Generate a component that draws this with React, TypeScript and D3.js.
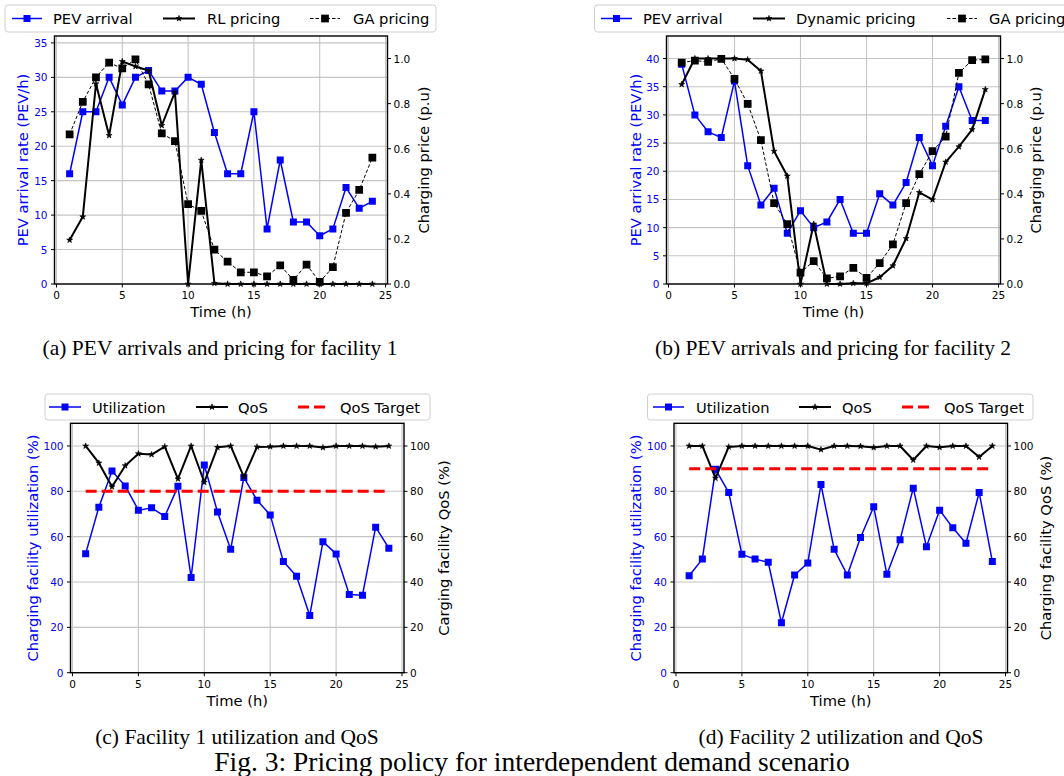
import React from 'react'
import * as d3 from 'd3'

// hours of the day on the x axis
const hours = [1, 2, 3, 4, 5, 6, 7, 8, 9, 10, 11, 12, 13, 14, 15, 16, 17, 18, 19, 20, 21, 22, 23, 24]

// (a) facility 1
const pevArrival1 = [16, 25, 25, 30, 26, 30, 31, 28, 28, 30, 29, 22, 16, 16, 25, 8, 18, 9, 9, 7, 8, 14, 11, 12]
const rlPricing1 = [0.195, 0.298, 0.888, 0.659, 0.987, 0.965, 0.947, 0.703, 0.851, 0, 0.549, 0.003, 0, 0, 0, 0, 0, 0, 0, 0, 0, 0, 0, 0]
const gaPricing1 = [0.664, 0.808, 0.917, 0.982, 0.956, 0.996, 0.885, 0.668, 0.634, 0.354, 0.324, 0.152, 0.099, 0.052, 0.052, 0.034, 0.083, 0.018, 0.086, 0.009, 0.075, 0.316, 0.417, 0.56]

// (b) facility 2
const pevArrival2 = [39, 30, 27, 26, 36, 21, 14, 17, 9, 13, 10, 11, 15, 9, 9, 16, 14, 18, 26, 21, 28, 35, 29, 29]
const dynPricing2 = [0.885, 1.0, 1.0, 1.0, 1.0, 0.995, 0.945, 0.589, 0.479, 0.0, 0.266, 0.0, 0.0, 0.003, 0.003, 0.03, 0.081, 0.202, 0.406, 0.374, 0.541, 0.609, 0.685, 0.863]
const gaPricing2 = [0.982, 0.991, 0.985, 0.999, 0.91, 0.799, 0.638, 0.359, 0.266, 0.05, 0.102, 0.025, 0.034, 0.072, 0.027, 0.093, 0.176, 0.359, 0.487, 0.589, 0.654, 0.936, 0.993, 0.996]

// (c) facility 1 utilization / QoS
const utilization1 = [52.5, 73, 89, 82.4, 71.7, 72.7, 68.9, 82.2, 42, 91.6, 70.9, 54.4, 86.1, 76.1, 69.6, 49, 42.5, 25.2, 57.8, 52.4, 34.5, 34.2, 64.2, 54.9]
const qos1 = [100, 92.5, 82, 91.3, 96.6, 96.2, 99.7, 85.5, 100, 84, 99.4, 100, 86.4, 99.6, 99.7, 100, 100, 100, 99.3, 100, 100, 100, 99.7, 100]
const qosTarget1 = 80

// (d) facility 2 utilization / QoS
const utilization2 = [42.8, 50.1, 89.7, 79.5, 52.2, 50.1, 48.7, 22, 43.1, 48.4, 83, 54.4, 43.1, 59.6, 73.2, 43.4, 58.6, 81.4, 55.6, 71.7, 63.9, 57.1, 79.5, 49.1]
const qos2 = [100, 100, 85.8, 99.6, 100, 100, 100, 100, 100, 100, 98.4, 100, 100, 99.9, 99.3, 100, 100, 93.8, 100, 99.4, 100, 100, 95.1, 100]
const qosTarget2 = 90

const timeTicks = [0, 5, 10, 15, 20, 25]
const arrivalTicks1 = [0, 5, 10, 15, 20, 25, 30, 35]
const arrivalTicks2 = [0, 5, 10, 15, 20, 25, 30, 35, 40]
const priceTicks = [0, 0.2, 0.4, 0.6, 0.8, 1.0]
const percentTicks = [0, 20, 40, 60, 80, 100]

const BLUE = '#0000ff'
const SANS = 'DejaVu Sans, sans-serif'
const SERIF = 'Liberation Serif, Times New Roman, serif'

const squareSym = (s) => d3.symbol().type(d3.symbolSquare).size(s)()
const starSym = (s) => d3.symbol().type(d3.symbolStar).size(s)()

const Marker = ({ kind, size, color, x, y }) => {
    if (!kind) return null
    const d = kind === 'square' ? squareSym(size) : starSym(size)
    return <path d={d} transform={`translate(${x},${y})`} fill={color} stroke={color} strokeWidth={kind === 'star' ? 0.6 : 0} />
}

const Panel = ({ cfg }) => {
    const { box, leftDomain, rightDomain } = cfg
    const x = d3.scaleLinear().domain([-0.15, 25.15]).range([box.left, box.right])
    const yL = d3.scaleLinear().domain(leftDomain).range([box.bottom, box.top])
    const yR = d3.scaleLinear().domain(rightDomain).range([box.bottom, box.top])
    const cx = (box.left + box.right) / 2
    const cy = (box.top + box.bottom) / 2

    const drawSeries = (s, i) => {
        const y = s.axis === 'left' ? yL : yR
        if (s.target !== undefined) {
            return <line key={i} x1={x(hours[0])} x2={x(hours[hours.length - 1])} y1={y(s.target)} y2={y(s.target)}
                stroke={s.color} strokeWidth={s.width} strokeDasharray={s.dash} />
        }
        const line = d3.line().x((d, j) => x(hours[j])).y(d => y(d))
        return (
            <g key={i}>
                <path d={line(s.values)} fill="none" stroke={s.color} strokeWidth={s.width} strokeDasharray={s.dash || null} strokeLinejoin="round" />
                {s.values.map((v, j) => <Marker key={j} kind={s.marker} size={s.markerSize} color={s.color} x={x(hours[j])} y={y(v)} />)}
            </g>
        )
    }

    const lg = cfg.legend
    const lgY = (lg.y0 + lg.y1) / 2

    return (
        <g>
            <defs>
                <clipPath id={'clip-' + cfg.id}>
                    <rect x={box.left} y={box.top - 6} width={box.right - box.left} height={box.bottom - box.top + 10} />
                </clipPath>
            </defs>
            {/* grid */}
            {timeTicks.map(t => <line key={'gx' + t} x1={x(t)} x2={x(t)} y1={box.top} y2={box.bottom} stroke="#c4c4c4" strokeWidth={1.1} />)}
            {cfg.leftTicks.map(t => <line key={'gy' + t} x1={box.left} x2={box.right} y1={yL(t)} y2={yL(t)} stroke="#c4c4c4" strokeWidth={1.1} />)}

            <g clipPath={`url(#clip-${cfg.id})`}>
                {cfg.series.map(drawSeries)}
            </g>

            {/* frame */}
            <rect x={box.left} y={box.top} width={box.right - box.left} height={box.bottom - box.top} fill="none" stroke="#000" strokeWidth={1.4} />

            {/* bottom ticks */}
            {timeTicks.map(t => (
                <g key={'xt' + t}>
                    <line x1={x(t)} x2={x(t)} y1={box.bottom} y2={box.bottom + 3.5} stroke="#000" />
                    <text x={x(t)} y={box.bottom + 15} textAnchor="middle" fontSize={10.5} fontFamily={SANS} fill="#000">{t}</text>
                </g>
            ))}
            {/* left ticks */}
            {cfg.leftTicks.map(t => (
                <g key={'yl' + t}>
                    <line x1={box.left - 3.5} x2={box.left} y1={yL(t)} y2={yL(t)} stroke="#000" />
                    <text x={box.left - 7} y={yL(t)} textAnchor="end" dominantBaseline="central" fontSize={10.5} fontFamily={SANS} fill={BLUE}>{t}</text>
                </g>
            ))}
            {/* right ticks */}
            {cfg.rightTicks.map(t => (
                <g key={'yr' + t}>
                    <line x1={box.right} x2={box.right + 3.5} y1={yR(t)} y2={yR(t)} stroke="#000" />
                    <text x={box.right + 6} y={yR(t)} textAnchor="start" dominantBaseline="central" fontSize={10.5} fontFamily={SANS} fill="#000">{cfg.rightFormat(t)}</text>
                </g>
            ))}

            <text x={cx} y={box.bottom + 33} textAnchor="middle" fontSize={14.7} fontFamily={SANS}>Time (h)</text>
            <text transform={`translate(${cfg.leftLabelX},${cy}) rotate(-90)`} textAnchor="middle" dominantBaseline="central" fontSize={14.7} fontFamily={SANS} fill={BLUE}>{cfg.leftLabel}</text>
            <text transform={`translate(${cfg.rightLabelX},${cy}) rotate(-90)`} textAnchor="middle" dominantBaseline="central" fontSize={14.7} fontFamily={SANS} fill="#000">{cfg.rightLabel}</text>

            {/* legend */}
            <rect x={lg.x0} y={lg.y0} width={lg.x1 - lg.x0} height={lg.y1 - lg.y0} rx={3} fill="#fff" fillOpacity={0.8} stroke="#d0d0d0" />
            {cfg.series.map((s, i) => {
                const it = lg.items[i]
                return (
                    <g key={'lg' + i}>
                        <line x1={it.sx0} x2={it.sx1} y1={lgY} y2={lgY} stroke={s.color} strokeWidth={s.width} strokeDasharray={s.dash || null} />
                        <Marker kind={s.marker} size={s.markerSize} color={s.color} x={(it.sx0 + it.sx1) / 2} y={lgY} />
                        <text x={it.tx} y={lgY} dominantBaseline="central" fontSize={14.7} fontFamily={SANS}>{s.label}</text>
                    </g>
                )
            })}

            <text x={cfg.caption.x} y={cfg.caption.y} textAnchor="middle" fontSize={21.5} fontFamily={SERIF}>{cfg.caption.text}</text>
        </g>
    )
}

const fmt1 = d3.format('.1f')
const fmt0 = d3.format('d')

const panels = [
    {
        id: 'a',
        box: { left: 54.5, right: 387.5, top: 36, bottom: 284 },
        leftDomain: [0, 36], rightDomain: [0, 1.1],
        leftTicks: arrivalTicks1, rightTicks: priceTicks, rightFormat: fmt1,
        leftLabel: 'PEV arrival rate (PEV/h)', rightLabel: 'Charging price (p.u)',
        leftLabelX: 22, rightLabelX: 423,
        series: [
            { label: 'PEV arrival', values: pevArrival1, axis: 'left', color: BLUE, width: 1.5, marker: 'square', markerSize: 49 },
            { label: 'RL pricing', values: rlPricing1, axis: 'right', color: '#000', width: 2, marker: 'star', markerSize: 11 },
            { label: 'GA pricing', values: gaPricing1, axis: 'right', color: '#000', width: 1, dash: '3.5,2', marker: 'square', markerSize: 60 },
        ],
        legend: { x0: 5, x1: 436, y0: 5, y1: 32, items: [{ sx0: 12, sx1: 42, tx: 53 }, { sx0: 163, sx1: 195, tx: 207 }, { sx0: 310, sx1: 340, tx: 353 }] },
        caption: { x: 220, y: 355, text: '(a) PEV arrivals and pricing for facility 1' },
    },
    {
        id: 'b',
        box: { left: 666.5, right: 1000.5, top: 36, bottom: 284 },
        leftDomain: [0, 44], rightDomain: [0, 1.1],
        leftTicks: arrivalTicks2, rightTicks: priceTicks, rightFormat: fmt1,
        leftLabel: 'PEV arrival rate (PEV/h)', rightLabel: 'Charging price (p.u)',
        leftLabelX: 635, rightLabelX: 1035,
        series: [
            { label: 'PEV arrival', values: pevArrival2, axis: 'left', color: BLUE, width: 1.5, marker: 'square', markerSize: 49 },
            { label: 'Dynamic pricing', values: dynPricing2, axis: 'right', color: '#000', width: 2, marker: 'star', markerSize: 11 },
            { label: 'GA pricing', values: gaPricing2, axis: 'right', color: '#000', width: 1, dash: '3.5,2', marker: 'square', markerSize: 60 },
        ],
        legend: { x0: 594.5, x1: 1075, y0: 5, y1: 32, items: [{ sx0: 601, sx1: 632, tx: 643 }, { sx0: 753, sx1: 785, tx: 796 }, { sx0: 947, sx1: 977, tx: 989 }] },
        caption: { x: 833, y: 355, text: '(b) PEV arrivals and pricing for facility 2' },
    },
    {
        id: 'c',
        box: { left: 70.5, right: 404, top: 423.3, bottom: 672.7 },
        leftDomain: [0, 110], rightDomain: [0, 110],
        leftTicks: percentTicks, rightTicks: percentTicks, rightFormat: fmt0,
        leftLabel: 'Charging facility utilization (%)', rightLabel: 'Carging facility QoS (%)',
        leftLabelX: 32, rightLabelX: 443,
        series: [
            { label: 'Utilization', values: utilization1, axis: 'left', color: BLUE, width: 1.5, marker: 'square', markerSize: 49 },
            { label: 'QoS', values: qos1, axis: 'right', color: '#000', width: 2, marker: 'star', markerSize: 11 },
            { label: 'QoS Target', target: qosTarget1, axis: 'right', color: '#ff0000', width: 3, dash: '11,5', marker: null },
        ],
        legend: { x0: 45, x1: 430, y0: 394, y1: 420, items: [{ sx0: 49, sx1: 81, tx: 92 }, { sx0: 196, sx1: 228, tx: 238 }, { sx0: 298, sx1: 328, tx: 340 }] },
        caption: { x: 237, y: 744, text: '(c) Facility 1 utilization and QoS' },
    },
    {
        id: 'd',
        box: { left: 674, right: 1007.5, top: 423.3, bottom: 672.7 },
        leftDomain: [0, 110], rightDomain: [0, 110],
        leftTicks: percentTicks, rightTicks: percentTicks, rightFormat: fmt0,
        leftLabel: 'Charging facility utilization (%)', rightLabel: 'Charging facility QoS (%)',
        leftLabelX: 635, rightLabelX: 1045,
        series: [
            { label: 'Utilization', values: utilization2, axis: 'left', color: BLUE, width: 1.5, marker: 'square', markerSize: 49 },
            { label: 'QoS', values: qos2, axis: 'right', color: '#000', width: 2, marker: 'star', markerSize: 11 },
            { label: 'QoS Target', target: qosTarget2, axis: 'right', color: '#ff0000', width: 3, dash: '11,5', marker: null },
        ],
        legend: { x0: 647.5, x1: 1033, y0: 394, y1: 420, items: [{ sx0: 653, sx1: 684, tx: 696 }, { sx0: 799, sx1: 831, tx: 842 }, { sx0: 902, sx1: 932, tx: 944 }] },
        caption: { x: 841, y: 744, text: '(d) Facility 2 utilization and QoS' },
    },
]

export default function App() {
    return (
        <div style={{ position: 'absolute', left: 0, top: 0 }}>
            <svg width={1064} height={776} style={{ display: 'block', background: '#fff' }}>
                <rect width={1064} height={776} fill="#fff" />
                {panels.map(p => <Panel key={p.id} cfg={p} />)}
                <text x={532} y={771} textAnchor="middle" fontSize={27.5} fontFamily={SERIF}>Fig. 3: Pricing policy for interdependent demand scenario</text>
            </svg>
        </div>
    )
}
